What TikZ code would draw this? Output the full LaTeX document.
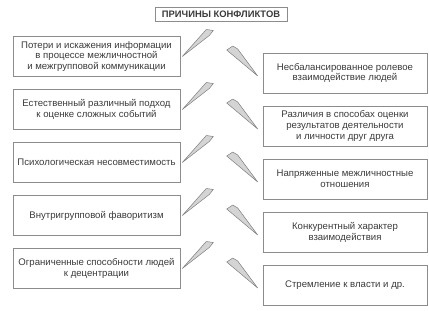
\documentclass[tikz,border=0pt]{standalone}
\usepackage{fontspec}
\setmainfont{Liberation Sans}
\usepackage{xcolor}
\usetikzlibrary{positioning}
\definecolor{cadre}{HTML}{8C8C8C}
\definecolor{texte}{HTML}{3A3A3A}
\definecolor{pointe}{HTML}{D4D4D4}

\begin{document}
\begin{tikzpicture}[x=1pt, y=-1pt,
  cause/.style={draw=cadre, line width=0.6pt, text=texte, align=center,
                font=\fontsize{9.6}{10.8}\selectfont, inner sep=1pt},
  gauche/.style={cause, minimum width=167pt, minimum height=40pt},
  droite/.style={cause, minimum width=164pt, minimum height=40pt},
  eclair/.style={draw=cadre!90!black, fill=pointe, line width=0.5pt, line join=round}]
  \useasboundingbox (0,0) rectangle (429,311);

  % Titre
  \node[draw=cadre, line width=0.6pt, text=texte, minimum width=132pt, minimum height=14pt,
        inner sep=1pt, font=\bfseries\fontsize{9.4}{10}\selectfont] (causes) at (221,14)
      {ПРИЧИНЫ КОНФЛИКТОВ};

  % Colonne de gauche
  \node[gauche] (l1) at (96.5,56.5) {Потери и искажения информации\\в процессе межличностной\\и межгрупповой коммуникации};
  \node[gauche] (l2) at (96.5,109.5) {Естественный различный подход\\к оценке сложных событий};
  \node[gauche] (l3) at (96.5,162.5) {Психологическая несовместимость};
  \node[gauche] (l4) at (96.5,215.5) {Внутригрупповой фаворитизм};
  \node[gauche] (l5) at (96.5,268.5) {Ограниченные способности людей\\к децентрации};

  % Colonne de droite
  \node[droite] (r1) at (345,73) {Несбалансированное ролевое\\взаимодействие людей};
  \node[droite] (r2) at (345,126) {Различия в способах оценки\\результатов деятельности\\и личности друг друга};
  \node[droite] (r3) at (345,179) {Напряженные межличностные\\отношения};
  \node[droite] (r4) at (345,232) {Конкурентный характер\\взаимодействия};
  \node[droite] (r5) at (345,285) {Стремление к власти и др.};

  % Pointes
  \foreach \i in {1,...,5} {
    \draw[eclair] ([xshift=2pt]l\i.east) -- ++(24,-27) -- ++(7,1) -- ++(-4,5) -- cycle;
    \draw[eclair] ([xshift=-5pt, yshift=-3pt]r\i.west) -- ++(-31,-26) -- ++(6,-4) -- ++(5,3) -- cycle;
  }
\end{tikzpicture}
\end{document}
